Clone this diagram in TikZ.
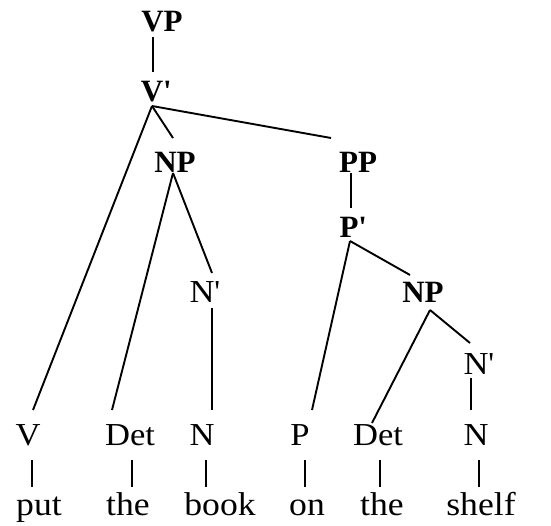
\documentclass[tikz,border=0pt]{standalone}
\usepackage{fontspec}
\usepackage{graphicx}
\newfontfamily\treefont{Liberation Serif}
\newcommand\widetxt[1]{\scalebox{1.08}[1]{#1}}
\newcommand\pr{\rlap{'}}
\tikzset{
  cat/.style={inner sep=0pt, anchor=base, font=\treefont\fontsize{31}{31}\selectfont\bfseries},
  lex/.style={inner sep=0pt, anchor=base, font=\treefont\fontsize{32}{32}\selectfont},
  word/.style={inner sep=0pt, anchor=base, font=\treefont\fontsize{33}{33}\selectfont},
  br/.style={line width=1.9pt}
}
\begin{document}
\begin{tikzpicture}[x=1pt,y=1pt]
\useasboundingbox (0,0) rectangle (551,525);
% phrase nodes (positions: x, 525 - baseline)
\node[cat] (VP)  at (162,493) {VP};
\node[cat] (Vb)  at (152,423) {V\pr};
\node[cat] (NPa) at (175,352) {NP};
\node[cat] (PP)  at (358,352) {PP};
\node[cat] (Pb)  at (349,287) {P\pr};
\node[lex] (Nb1) at (202,222) {\widetxt{N}\pr};
\node[cat] (NPb) at (423,222) {NP};
\node[lex] (Nb2) at (476,150) {\widetxt{N}\pr};
% lexical categories
\node[lex] (V)    at (28,80)  {\widetxt{V}};
\node[lex] (Det1) at (130,80) {\widetxt{Det}};
\node[lex] (N1)   at (202,80) {\widetxt{N}};
\node[lex] (P)    at (300,80) {\widetxt{P}};
\node[lex] (Det2) at (378,80) {\widetxt{Det}};
\node[lex] (N2)   at (476,80) {\widetxt{N}};
% words
\node[word] (w1) at (39,10)  {\widetxt{put}};
\node[word] (w2) at (128,10) {\widetxt{the}};
\node[word] (w3) at (220,10) {\widetxt{book}};
\node[word] (w4) at (307,10) {\widetxt{on}};
\node[word] (w5) at (382,10) {\widetxt{the}};
\node[word] (w6) at (481,10) {\widetxt{shelf}};
% branches
\draw[br] ([shift={(-9,-5)}]VP.base) -- ([shift={(1,30)}]Vb.base);
\draw[br] ([shift={(0,-4)}]Vb.base) -- ([shift={(5,35)}]V.base);
\draw[br] ([shift={(0,-4)}]Vb.base) -- ([shift={(-2,35)}]NPa.base);
\draw[br] ([shift={(0,-4)}]Vb.base) -- ([shift={(-27,35)}]PP.base);
\draw[br] ([shift={(-2,0)}]NPa.base) -- ([shift={(-18,35)}]Det1.base);
\draw[br] ([shift={(-2,0)}]NPa.base) -- ([shift={(10,30)}]Nb1.base);
\draw[br] ([shift={(10,-5)}]Nb1.base) -- ([shift={(10,35)}]N1.base);
\draw[br] ([shift={(-7,0)}]PP.base) -- ([shift={(2,30)}]Pb.base);
\draw[br] ([shift={(1,-3)}]Pb.base) -- ([shift={(12,35)}]P.base);
\draw[br] ([shift={(1,-3)}]Pb.base) -- ([shift={(-13,28)}]NPb.base);
\draw[br] ([shift={(7,-7)}]NPb.base) -- ([shift={(-6,22)}]Det2.base);
\draw[br] ([shift={(7,-7)}]NPb.base) -- ([shift={(-6,32)}]Nb2.base);
\draw[br] ([shift={(-5,-3)}]Nb2.base) -- ([shift={(-5,35)}]N2.base);
% lexical bars
\draw[br] ([shift={(4,-15)}]V.base) -- ([shift={(4,-42)}]V.base);
\draw[br] ([shift={(2,-15)}]Det1.base) -- ([shift={(2,-42)}]Det1.base);
\draw[br] ([shift={(4,-15)}]N1.base) -- ([shift={(4,-42)}]N1.base);
\draw[br] ([shift={(5,-15)}]P.base) -- ([shift={(5,-42)}]P.base);
\draw[br] ([shift={(2,-15)}]Det2.base) -- ([shift={(2,-42)}]Det2.base);
\draw[br] ([shift={(3,-15)}]N2.base) -- ([shift={(3,-42)}]N2.base);
\end{tikzpicture}
\end{document}
